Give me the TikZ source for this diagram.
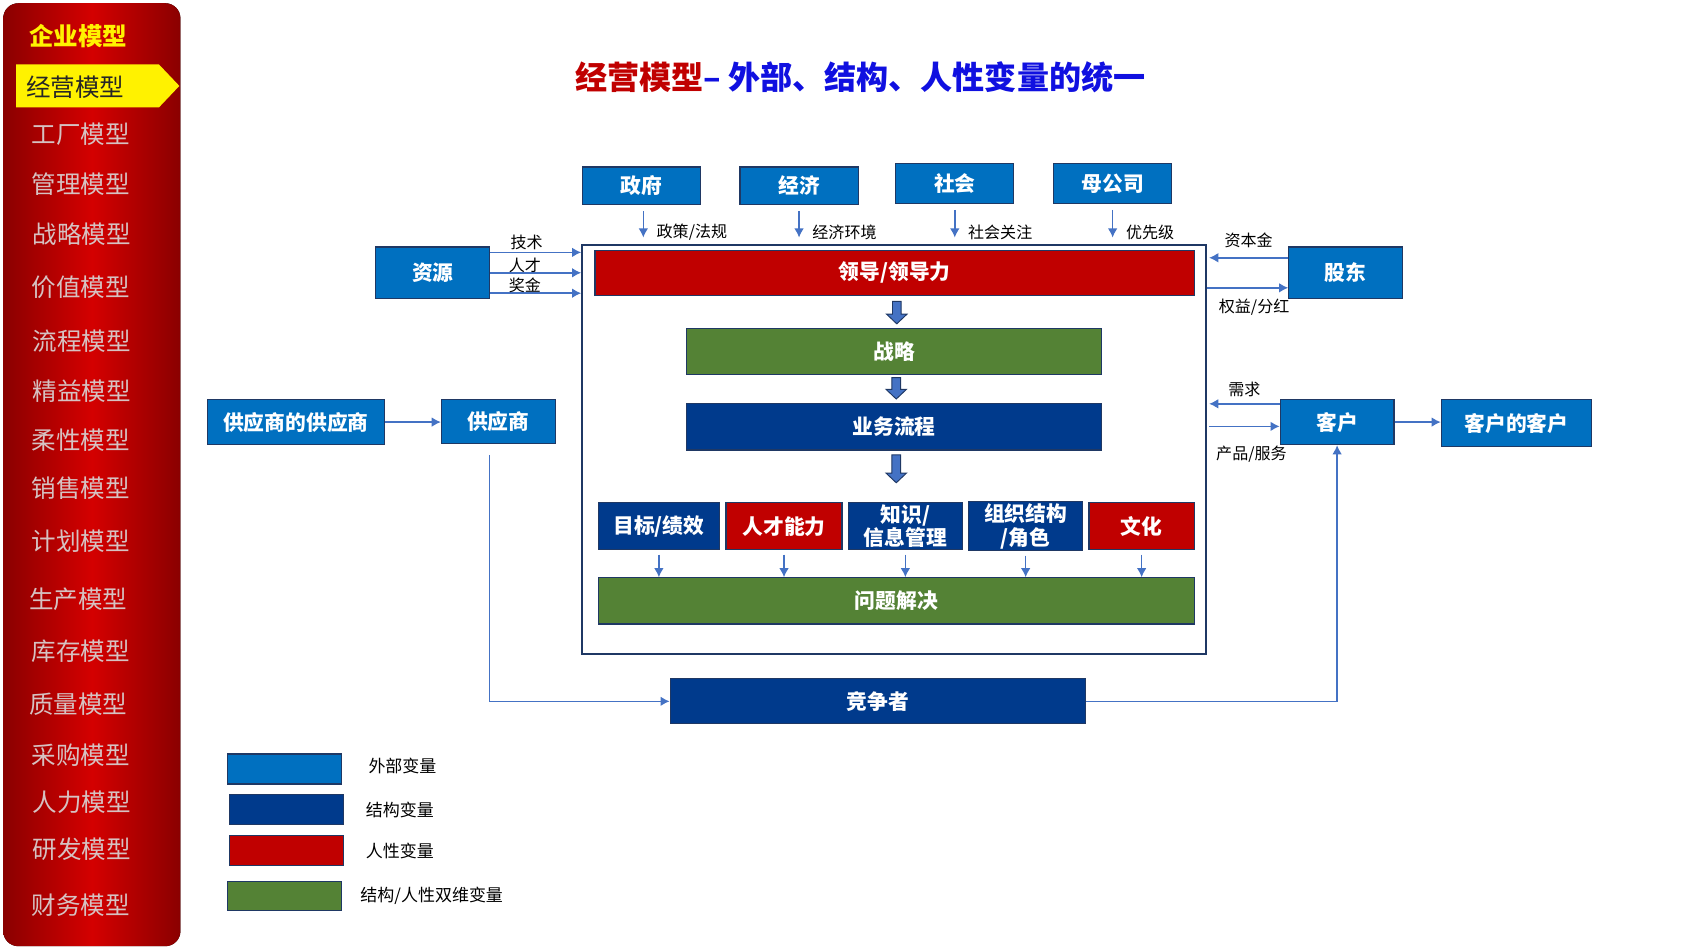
\documentclass[tikz,border=0pt]{standalone}
\usepackage{fontspec}
\setmainfont{Noto Sans CJK SC}
\usepackage{xcolor}
\usetikzlibrary{arrows.meta,positioning,calc}
\definecolor{extblue}{HTML}{0070C0}
\definecolor{strblue}{HTML}{003A8C}
\definecolor{humred}{HTML}{C00000}
\definecolor{dualgreen}{HTML}{548235}
\definecolor{edge}{HTML}{1F3864}
\definecolor{link}{HTML}{4472C4}
\definecolor{sidedark}{HTML}{8A0000}
\definecolor{sidemid}{HTML}{D40000}
\definecolor{menugray}{HTML}{D6C2C2}
\definecolor{titleblue}{HTML}{1010E0}
% thick block arrow pointing down, #1 = top point, #2 = shaft length
\newcommand{\fatarrow}[2]{\filldraw[fat] (#1) ++(-4,0) -- ++(8,0) -- ++(0,#2) -- ++(5.5,0) -- ++(-9.5,9) -- ++(-9.5,-9) -- ++(5.5,0) -- cycle;}

\begin{document}
\begin{tikzpicture}[x=0.02cm,y=-0.02cm,
    every node/.style={font=\fontsize{11}{12.5}\selectfont},
    var/.style={draw=edge,line width=0.6pt,text=white,align=center,inner sep=1pt,
                font=\fontsize{11}{12.5}\selectfont\bfseries},
    ext/.style={var,fill=extblue},
    str/.style={var,fill=strblue},
    hum/.style={var,fill=humred},
    dual/.style={var,fill=dualgreen},
    lbl/.style={font=\fontsize{8.5}{10}\selectfont,inner sep=1pt},
    keylbl/.style={font=\fontsize{9}{10}\selectfont,inner sep=1pt},
    menu/.style={text=menugray,font=\fontsize{13}{15}\selectfont},
    arr/.style={-{Latex[length=1.7mm,width=1.8mm]},draw=link,line width=0.8pt},
    fat/.style={draw=edge,fill=link,line width=0.5pt},
  ]
  \useasboundingbox (0,0) rectangle (1568,883);

  % side menu
  \fill[left color=sidedark,right color=sidedark,middle color=sidemid,rounded corners=8pt]
    (3,3) rectangle (168,881);
  \fill[yellow] (15,60) -- (148,60) -- (167,80) -- (148,100) -- (15,100) -- cycle;
  \node[text=yellow,font=\fontsize{13}{15}\selectfont\bfseries] (corp) at (73,34) {企业模型};
  \node[text=black!85,font=\fontsize{13}{15}\selectfont] (m0) at (70,81) {经营模型};
  \node[menu] (m1) at (75,125) {工厂模型};
  \node[menu] (m2) at (75,171) {管理模型};
  \node[menu] (m3) at (76,218) {战略模型};
  \node[menu] (m4) at (75,267) {价值模型};
  \node[menu] (m5) at (76,318) {流程模型};
  \node[menu] (m6) at (76,364) {精益模型};
  \node[menu] (m7) at (75,410) {柔性模型};
  \node[menu] (m8) at (75,455) {销售模型};
  \node[menu] (m9) at (75,504) {计划模型};
  \node[menu] (m10) at (73,558) {生产模型};
  \node[menu] (m11) at (75,606) {库存模型};
  \node[menu] (m12) at (73,656) {质量模型};
  \node[menu] (m13) at (75,703) {采购模型};
  \node[menu] (m14) at (76,747) {人力模型};
  \node[menu] (m15) at (76,791) {研发模型};
  \node[menu] (m16) at (75,843) {财务模型};

  % title
  \node[font=\fontsize{17}{20}\selectfont\bfseries] (title) at (801,72)
    {\textcolor{humred}{经营模型}\textcolor{titleblue}{– 外部、结构、人性变量的统一}};

  % external variables on top
  \node[ext,minimum width=2.2cm,minimum height=0.7cm] (gov) at (597,173) {政府};
  \node[ext,minimum width=2.2cm,minimum height=0.7cm] (econ) at (744,173) {经济};
  \node[ext,minimum width=2.2cm,minimum height=0.74cm] (soc) at (889,171) {社会};
  \node[ext,minimum width=2.2cm,minimum height=0.74cm] (parent) at (1036,171) {母公司};

  % the firm
  \node[draw=edge,line width=1pt,minimum width=11.62cm,minimum height=7.62cm,inner sep=0pt]
    (firm) at (832.5,418.5) {};
  \node[hum,minimum width=11.16cm,minimum height=0.84cm] (lead) at (833,254) {领导/领导力};
  \node[dual,minimum width=7.74cm,minimum height=0.86cm] (strat) at (832.5,327.5) {战略};
  \node[str,minimum width=7.74cm,minimum height=0.86cm] (proc) at (832.5,397.5) {业务流程};
  \node[str,minimum width=2.26cm,minimum height=0.88cm] (goal) at (613.5,490) {目标/绩效};
  \node[hum,minimum width=2.16cm,minimum height=0.88cm] (talent) at (730,490) {人才能力};
  \node[str,minimum width=2.12cm,minimum height=0.88cm] (know) at (843,490) {知识/\\信息管理};
  \node[str,minimum width=2.12cm,minimum height=0.88cm] (org) at (955,490) {组织结构\\/角色};
  \node[hum,minimum width=1.96cm,minimum height=0.88cm] (cult) at (1063,490) {文化};
  \node[dual,minimum width=11.1cm,minimum height=0.86cm] (solve) at (834.5,559.5) {问题解决};

  % partners round the firm
  \node[ext,minimum width=2.12cm,minimum height=0.96cm] (res) at (403,254) {资源};
  \node[ext,minimum width=2.12cm,minimum height=0.96cm] (share) at (1253,254) {股东};
  \node[ext,minimum width=2.12cm,minimum height=0.84cm] (cust) at (1245,393) {客户};
  \node[ext,minimum width=2.8cm,minimum height=0.88cm] (custcust) at (1412,394) {客户的客户};
  \node[ext,minimum width=3.3cm,minimum height=0.84cm] (supsup) at (275.5,393) {供应商的供应商};
  \node[ext,minimum width=2.12cm,minimum height=0.82cm] (sup) at (464,392.5) {供应商};
  \node[str,minimum width=7.74cm,minimum height=0.84cm] (comp) at (817.5,653) {竞争者};

  % block arrows inside the firm
  \coordinate (f1) at ([xshift=0.04cm,yshift=-0.1cm]lead.south);
  \coordinate (f2) at ([xshift=0.04cm,yshift=-0.04cm]strat.south);
  \coordinate (f3) at ([xshift=0.04cm,yshift=-0.08cm]proc.south);
  \fatarrow{f1}{12}
  \fatarrow{f2}{11}
  \fatarrow{f3}{17}

  % small arrows down to problem solving
  \draw[arr] ([yshift=-0.08cm]goal.south) -- (goal.south |- solve.north);
  \draw[arr] ([yshift=-0.08cm]talent.south) -- (talent.south |- solve.north);
  \draw[arr] ([yshift=-0.08cm]know.south) -- (know.south |- solve.north);
  \draw[arr] ([yshift=-0.08cm]org.south) -- (org.south |- solve.north);
  \draw[arr] ([yshift=-0.08cm]cult.south) -- (cult.south |- solve.north);

  % influences from the top
  \draw[arr] ([xshift=0.04cm,yshift=-0.11cm]gov.south) -- ([xshift=0.04cm,yshift=0.12cm]gov.south |- firm.north)
    node[lbl,pos=0.8,anchor=west,xshift=0.2cm] {政策/法规};
  \draw[arr] ([yshift=-0.11cm]econ.south) -- ([yshift=0.12cm]econ.south |- firm.north)
    node[lbl,pos=0.8,anchor=west,xshift=0.2cm] {经济环境};
  \draw[arr] ([yshift=-0.11cm]soc.south) -- ([yshift=0.12cm]soc.south |- firm.north)
    node[lbl,pos=0.8,anchor=west,xshift=0.2cm] {社会关注};
  \draw[arr] ([yshift=-0.11cm]parent.south) -- ([yshift=0.12cm]parent.south |- firm.north)
    node[lbl,pos=0.8,anchor=west,xshift=0.2cm] {优先级};

  % resources
  \coordinate (r1) at ([yshift=0.38cm]res.east);
  \coordinate (r2) at (res.east);
  \coordinate (r3) at ([yshift=-0.38cm]res.east);
  \draw[arr] (r1) -- (r1 -| firm.west) node[lbl,above,pos=0.4] {技术};
  \draw[arr] (r2) -- (r2 -| firm.west) node[lbl,above,pos=0.38,yshift=-0.05cm] {人才};
  \draw[arr] (r3) -- (r3 -| firm.west) node[lbl,above,pos=0.38,yshift=-0.05cm] {奖金};

  % shareholders
  \coordinate (s1) at ([yshift=0.28cm]share.west);
  \coordinate (s2) at ([yshift=-0.28cm]share.west);
  \draw[arr] (s1) -- ([xshift=0.04cm]s1 -| firm.east) node[lbl,above,pos=0.5,yshift=0.14cm] {资本金};
  \draw[arr] (s2 -| firm.east) -- (s2) node[lbl,below,pos=0.58,yshift=-0.16cm] {权益/分红};

  % customers
  \coordinate (c1) at ([yshift=0.34cm]cust.west);
  \coordinate (c2) at ([yshift=-0.08cm]cust.west);
  \draw[arr] (c1) -- ([xshift=0.04cm]c1 -| firm.east) node[lbl,above,pos=0.5,yshift=0.08cm] {需求};
  \draw[arr] ([xshift=0.04cm]c2 -| firm.east) -- (c2) node[lbl,below,pos=0.6,yshift=-0.32cm] {产品/服务};
  \draw[arr] (cust.east) -- (custcust.west |- cust.east);

  % suppliers and competitors
  \draw[arr] (supsup.east) -- (sup.west |- supsup.east);
  \draw[arr] ([xshift=-0.16cm,yshift=-0.2cm]sup.south) |- (comp.west);
  \draw[arr] (comp.east) -| (cust.south);

  % legend
  \node[ext,minimum width=2.12cm,minimum height=0.56cm] (key1) at (265,716) {};
  \node[str,minimum width=2.12cm,minimum height=0.56cm] (key2) at (267,754) {};
  \node[hum,minimum width=2.12cm,minimum height=0.56cm] (key3) at (267,792) {};
  \node[dual,minimum width=2.12cm,minimum height=0.54cm] (key4) at (265,834.5) {};
  \node[keylbl,right=0.45cm of key1,yshift=0.05cm] (key1t) {外部变量};
  \node[keylbl,right=0.36cm of key2] (key2t) {结构变量};
  \node[keylbl,right=0.36cm of key3] (key3t) {人性变量};
  \node[keylbl,right=0.3cm of key4] (key4t) {结构/人性双维变量};
\end{tikzpicture}
\end{document}
